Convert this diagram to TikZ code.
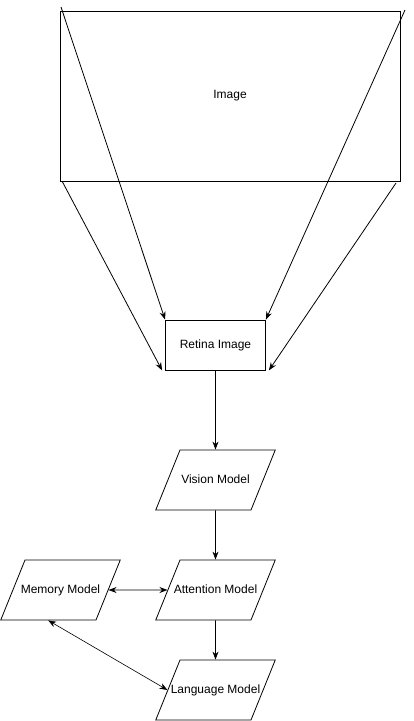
\documentclass[tikz,border=0pt]{standalone}
\usepackage{fontspec}
\setmainfont{Liberation Sans}
\usepackage{xcolor}
\usepackage{tikz}
\usetikzlibrary{positioning, shapes.geometric, arrows.meta}

% fixed text box, so that every model shape has the same size
\newcommand{\mtext}[1]{\makebox[71pt]{#1}}

\begin{document}
\begin{tikzpicture}[x=1pt, y=-1pt, line width=0.8pt, >={Stealth[length=8pt, width=6pt]},
    font=\fontsize{12}{14}\selectfont,
    model/.style={draw, trapezium, trapezium left angle=68, trapezium right angle=112,
        text height=8.5pt, text depth=2.5pt, inner xsep=0pt, inner ysep=24.5pt}]
            \useasboundingbox (0,0) rectangle (413,721);

            % Image
            \node[draw, rectangle, minimum width=340pt, minimum height=170pt] (img) at (230,96) {Image};

            % Retina Image
            \node[draw, rectangle, minimum width=100pt, minimum height=50pt] (ret) at (215.5,345) {Retina Image};

            % Models
            \node[model] (vis) at (215.5,480) {\mtext{Vision Model}};
            \node[model] (att) at (215.5,590) {\mtext{Attention Model}};
            \node[model] (mem) at (60.5,590) {\mtext{Memory Model}};
            \node[model] (lang) at (215.5,690) {\mtext{Language Model}};

            % Projection lines
            \coordinate (c1) at (61,7);
            \coordinate (c2) at (405,10);
            \coordinate (c3) at (62,181);
            \coordinate (c4) at (396,183);
            \draw[->] (c1) -- (ret.north west);
            \draw[->] (c2) -- (ret.north east);
            \draw[->] (c3) -- ([xshift=-3pt]ret.south west);
            \draw[->] (c4) -- ([xshift=3pt]ret.south east);

            % Arrows
            \draw[->] (ret) -- (vis);
            \draw[->] (vis) -- (att);
            \draw[<->] (mem) -- (att);
            \draw[->] (att) -- (lang);
            \draw[<->, line width=0.6pt] (mem.bottom side) -- (lang.west);

        \end{tikzpicture}
\end{document}
